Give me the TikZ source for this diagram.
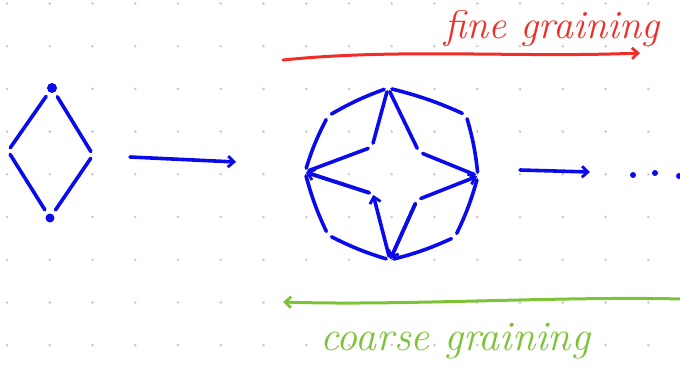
\documentclass[tikz,border=0pt]{standalone}
\usepackage{tikz}
\usetikzlibrary{arrows.meta, positioning}
\definecolor{inkblue}{RGB}{10, 10, 235}
\definecolor{inkred}{RGB}{240, 45, 40}
\definecolor{inkgreen}{RGB}{125, 195, 55}
\definecolor{griddot}{RGB}{200, 200, 200}

\begin{document}
\begin{tikzpicture}[x=1pt, y=-1pt,
  pen/.style={line width=3.6pt, line cap=round, line join=round},
  seg/.style={pen, inkblue, shorten <=4pt, shorten >=4pt},
  hook/.style={-{Straight Barb[length=6pt, width=11pt, line width=2.8pt]}},
  vdot/.style={circle, fill=inkblue, inner sep=0pt, minimum size=10pt},
  hand/.style={font=\fontsize{40}{44}\selectfont\itshape}]
  \useasboundingbox (0,0) rectangle (680,369);
  % dotted paper
  \foreach \i in {0,...,15}
    \foreach \j in {0,...,8}
      \fill[griddot] (7+42.75*\i, 3.5+42.7*\j) circle (1.4pt);

  % single diamond
  \node[vdot] (dtop) at (52,88) {};
  \node[vdot, minimum size=9pt] (dbot) at (50,218) {};
  \coordinate (dleft) at (8,151);
  \coordinate (dright) at (93,155);
  \draw[seg, shorten <=5pt] (dtop) -- (dleft);
  \draw[seg, shorten <=5pt] (dtop) -- (dright);
  \draw[seg, shorten >=5pt] (dleft) -- (dbot);
  \draw[seg, shorten >=5pt] (dright) -- (dbot);

  % first step
  \coordinate (stepa) at (130,157);
  \coordinate (stepb) at (236,162);
  \draw[pen, inkblue, hook] (stepa) -- (stepb);

  % octagon with four inner faces
  \coordinate (oT) at (388,88);
  \coordinate (oTL) at (328,116);
  \coordinate (oL) at (305,172);
  \coordinate (oBL) at (328,235);
  \coordinate (oB) at (390,260);
  \coordinate (oBR) at (455,237);
  \coordinate (oR) at (478,176);
  \coordinate (oTR) at (466,115);
  \coordinate (iUL) at (372,147);
  \coordinate (iUR) at (419,152);
  \coordinate (iLL) at (373,194);
  \coordinate (iLR) at (417,200);
  \foreach \a/\b in {oT/oTL, oTL/oL, oL/oBL, oBL/oB, oB/oBR, oBR/oR, oR/oTR, oTR/oT}
    \draw[seg] (\a) to[bend right=5] (\b);
  \foreach \a/\b in {oT/iUL, iUL/oL, oT/iUR, iUR/oR, oL/iLL, oB/iLR}
    \draw[seg] (\a) -- (\b);
  \draw[seg, hook, shorten >=1pt] (iLL) -- (oL);
  \draw[seg, hook, shorten >=1pt] (oB) -- (iLL);
  \draw[seg, hook, shorten >=1pt] (iLR) -- (oR);
  \draw[seg, hook, shorten >=1pt] (iLR) -- (oB);

  % next step
  \coordinate (stepc) at (520,170);
  \coordinate (stepd) at (590,172);
  \draw[pen, inkblue, hook] (stepc) -- (stepd);
  \node[vdot, minimum size=6pt] (more1) at (633,175) {};
  \node[vdot, minimum size=6pt] (more2) at (655,173) {};
  \node[vdot, minimum size=6pt] (more3) at (679,176) {};

  % fine graining
  \coordinate (finea) at (283,60);
  \coordinate (fineb) at (640,53);
  \draw[pen, line width=3pt, inkred, hook] (finea) .. controls (400,48) and (520,58) .. (fineb);
  \node[hand, text=inkred] (finelabel) at (552,29) {fine graining};

  % coarse graining
  \coordinate (coarsea) at (681,299);
  \coordinate (coarseb) at (283,302);
  \draw[pen, line width=3pt, inkgreen, hook] (coarsea) .. controls (560,296) and (400,306) .. (coarseb);
  \node[hand, text=inkgreen, font=\fontsize{42}{46}\selectfont\itshape] (coarselabel) at (455,341) {coarse graining};
\end{tikzpicture}
\end{document}
